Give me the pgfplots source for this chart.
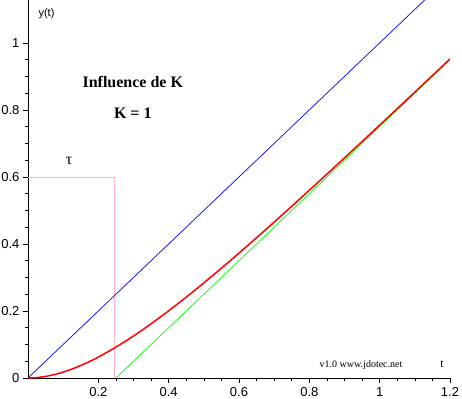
\documentclass[border=0pt]{standalone}
\usepackage{fontspec}
\setmainfont{Liberation Serif}
\newfontfamily\arial{Liberation Sans}
\usepackage{pgfplots}
\pgfplotsset{compat=1.18}
\definecolor{mypink}{RGB}{255,180,200}
\begin{document}
\begin{tikzpicture}
\useasboundingbox (-28pt,-20pt) rectangle (434pt,378pt);
\begin{axis}[
  scale only axis, width=422pt, height=378pt,
  xmin=0, xmax=1.2, ymin=0, ymax=1.128,
  axis x line=bottom, axis y line=left,
  axis line style={-, black, line width=0.6pt},
  xtick={0.2,0.4,0.6,0.8,1,1.2},
  ytick={0,0.2,0.4,0.6,0.8,1},
  minor tick num=3,
  tick align=outside,
  major tick length=5pt, minor tick length=3pt,
  tick style={black, line width=0.6pt},
  /pgf/number format/assume math mode=true,
  tick label style={font=\arial\fontsize{13}{13}\selectfont},
  xticklabel style={yshift=-1pt},
  clip=true,
]
\addplot[mypink, line width=0.8pt] coordinates {(0.245,0) (0.245,0.6)};
\addplot[mypink, line width=0.8pt] coordinates {(0,0.6) (0.245,0.6)};
\addplot[blue, line width=0.7pt] coordinates {(0,0) (1.2,1.2)};
\addplot[green, line width=0.7pt] coordinates {(0.25,0) (1.2,0.95)};
\addplot[red, line width=1.5pt, smooth] coordinates {
(0,0) (0.025,0.001209) (0.05,0.00468) (0.075,0.010205) (0.1,0.01758) (0.125,0.026633)
(0.15,0.03720) (0.175,0.049146) (0.2,0.06233) (0.25,0.09197) (0.3,0.12530) (0.35,0.16165)
(0.4,0.20047) (0.45,0.24133) (0.5,0.28383) (0.55,0.32770) (0.6,0.37268) (0.65,0.41857)
(0.7,0.46520) (0.75,0.51245) (0.8,0.56019) (0.85,0.60834) (0.9,0.65683) (0.95,0.70559)
(1.0,0.75458) (1.05,0.80375) (1.1,0.85307) (1.15,0.90251) (1.2,0.95206)};
\node[font=\bfseries\fontsize{16}{16}\selectfont] at (axis cs:0.298,0.883) {Influence de K};
\node[font=\bfseries\fontsize{16}{16}\selectfont] at (axis cs:0.298,0.79) {K = 1};
\node[font=\fontsize{16}{16}\selectfont] at (axis cs:0.117,0.648) {τ};
\node[font=\arial\fontsize{11}{11}\selectfont, anchor=west] at (axis cs:0.02,1.087) {y(t)};
\node[font=\fontsize{12}{12}\selectfont] at (axis cs:1.177,0.042) {t};
\node[font=\fontsize{10}{10}\selectfont] at (axis cs:0.947,0.039) {v1.0 www.jdotec.net};
\end{axis}
\end{tikzpicture}
\end{document}
